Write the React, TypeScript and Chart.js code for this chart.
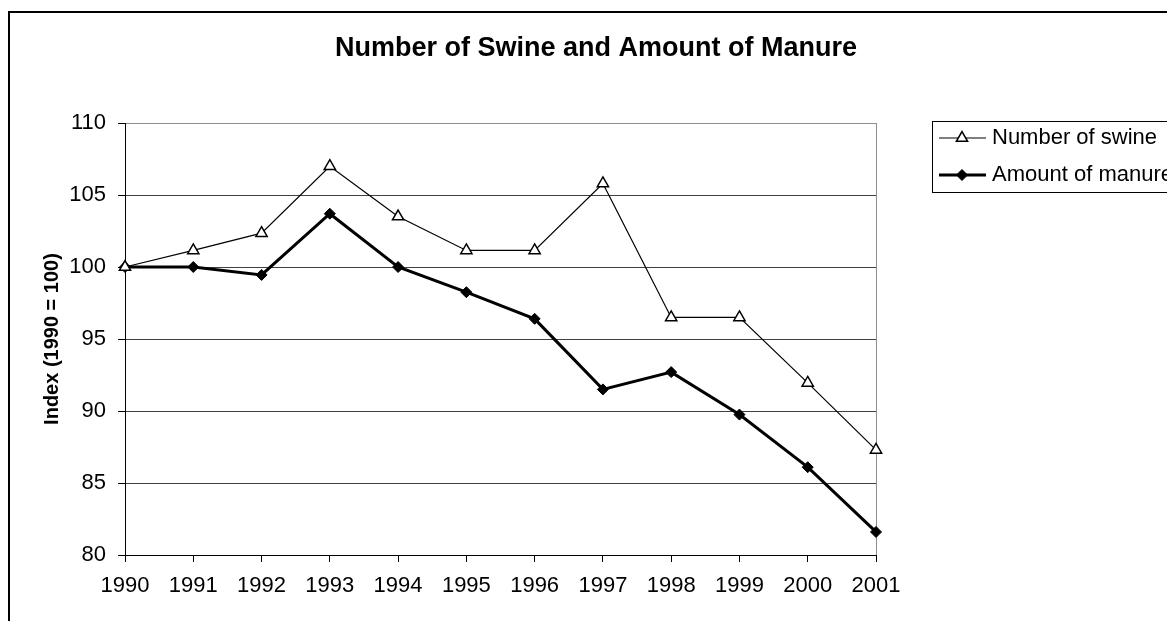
import React, { useEffect, useRef } from 'react';
import { Chart, registerables } from 'chart.js';

Chart.register(...registerables);

const years = ['1990', '1991', '1992', '1993', '1994', '1995', '1996', '1997', '1998', '1999', '2000', '2001'];
const swineIndex = [100, 101.15, 102.35, 107.0, 103.5, 101.15, 101.15, 105.8, 96.5, 96.5, 91.95, 87.3];
const manureIndex = [100, 100, 99.45, 103.7, 100, 98.25, 96.4, 91.5, 92.7, 89.75, 86.1, 81.6];
const seriesNames = ['Number of swine', 'Amount of manure'];
const chartTitle = 'Number of Swine and Amount of Manure';
const yAxisTitle = 'Index (1990 = 100)';
const yMin = 80;
const yMax = 110;
const yStep = 5;

const FONT = "'Liberation Sans', Arial, Helvetica, sans-serif";
const CANVAS_W = 1176;
const CANVAS_H = 640;

const titlePlugin = {
  id: 'centredTitle',
  afterDraw(chart: any) {
    const ctx = chart.ctx;
    ctx.save();
    ctx.fillStyle = '#000';
    ctx.font = `bold 27px ${FONT}`;
    ctx.textAlign = 'center';
    ctx.textBaseline = 'middle';
    ctx.fillText(chartTitle, 586, 35.6);
    ctx.restore();
  },
};

const legendPlugin = {
  id: 'boxLegend',
  afterDraw(chart: any) {
    const ctx = chart.ctx;
    ctx.save();
    ctx.strokeStyle = '#000';
    ctx.lineWidth = 1;
    ctx.strokeRect(922.5, 108.5, 280, 71);
    const items = chart.data.datasets.map((ds: any, i: number) => ({
      text: ds.label,
      y: i === 0 ? 125 : 162,
      ds,
    }));
    items.forEach((it: any) => {
      const x1 = 929, x2 = 976, cx = 952;
      ctx.beginPath();
      ctx.strokeStyle = it.ds.borderColor;
      ctx.lineWidth = it.ds.borderWidth;
      ctx.moveTo(x1, it.y);
      ctx.lineTo(x2, it.y);
      ctx.stroke();
      const r = it.ds.pointRadius;
      ctx.beginPath();
      if (it.ds.pointStyle === 'triangle') {
        for (let k = 0; k < 3; k++) {
          const a = (k * 2 * Math.PI) / 3;
          const px = cx + Math.sin(a) * r;
          const py = it.y - Math.cos(a) * r;
          if (k === 0) ctx.moveTo(px, py); else ctx.lineTo(px, py);
        }
      } else {
        ctx.moveTo(cx - r, it.y);
        ctx.lineTo(cx, it.y - r);
        ctx.lineTo(cx + r, it.y);
        ctx.lineTo(cx, it.y + r);
      }
      ctx.closePath();
      ctx.fillStyle = it.ds.pointBackgroundColor;
      ctx.fill();
      ctx.lineWidth = it.ds.pointBorderWidth;
      ctx.strokeStyle = it.ds.pointBorderColor;
      ctx.stroke();
      ctx.fillStyle = '#000';
      ctx.font = `22px ${FONT}`;
      ctx.textBaseline = 'middle';
      ctx.textAlign = 'left';
      ctx.fillText(it.text, 982, it.y);
    });
    ctx.restore();
  },
};

export default function App() {
  const canvasRef = useRef<HTMLCanvasElement | null>(null);

  useEffect(() => {
    if (!canvasRef.current) return;
    const chart = new Chart(canvasRef.current, {
      type: 'line',
      data: {
        labels: years,
        datasets: [
          {
            label: seriesNames[0],
            data: swineIndex,
            borderColor: '#000',
            borderWidth: 1.2,
            pointStyle: 'triangle',
            pointRadius: 6.5,
            pointBackgroundColor: '#fff',
            pointBorderColor: '#000',
            pointBorderWidth: 1.5,
            tension: 0,
            clip: false,
          },
          {
            label: seriesNames[1],
            data: manureIndex,
            borderColor: '#000',
            borderWidth: 3,
            pointStyle: 'rectRot',
            pointRadius: 5.5,
            pointBackgroundColor: '#000',
            pointBorderColor: '#000',
            pointBorderWidth: 1,
            tension: 0,
            clip: false,
          },
        ],
      },
      options: {
        responsive: false,
        animation: false,
        devicePixelRatio: 1,
        layout: { padding: { top: 110, left: 0, right: 310, bottom: 0 } },
        plugins: {
          legend: { display: false },
          tooltip: { enabled: false },
          title: { display: false },
        },
        scales: {
          x: {
            type: 'category',
            offset: false,
            afterFit: (scale: any) => { scale.height = CANVAS_H - 542; },
            grid: {
              offset: false,
              drawOnChartArea: true,
              color: (c: any) => (c.index === years.length - 1 ? '#8c8c8c' : 'rgba(0,0,0,0)'),
              tickColor: '#000',
              tickLength: 7,
              lineWidth: 1,
            },
            border: { display: true, color: '#000', width: 1 },
            ticks: {
              color: '#000',
              font: { family: FONT, size: 22 },
              padding: 11,
              maxRotation: 0,
              autoSkip: false,
            },
          },
          y: {
            min: yMin,
            max: yMax,
            afterFit: (scale: any) => { scale.width = 115; },
            grid: {
              color: (c: any) => (c.tick && c.tick.value === yMax ? '#8c8c8c' : '#404040'),
              tickColor: '#000',
              tickLength: 7,
              lineWidth: 1,
            },
            border: { display: true, color: '#000', width: 1 },
            ticks: {
              stepSize: yStep,
              color: '#000',
              font: { family: FONT, size: 22 },
              padding: 12,
            },
            title: {
              display: true,
              text: yAxisTitle,
              color: '#000',
              font: { family: FONT, size: 20, weight: 'bold', lineHeight: 1.2 },
              padding: { top: 30, bottom: 0 },
            },
          },
        },
      },
      plugins: [titlePlugin, legendPlugin],
    } as any);
    return () => chart.destroy();
  }, []);

  return (
    <div
      style={{
        position: 'fixed',
        left: 8,
        top: 11,
        width: 1159,
        height: 610,
        overflow: 'hidden',
        background: '#fff',
      }}
    >
      <div
        style={{
          width: CANVAS_W + 4,
          height: CANVAS_H + 4,
          border: '2px solid #000',
          boxSizing: 'border-box',
          background: '#fff',
        }}
      >
        <canvas ref={canvasRef} width={CANVAS_W} height={CANVAS_H} style={{ display: 'block', width: CANVAS_W, height: CANVAS_H }} />
      </div>
    </div>
  );
}
